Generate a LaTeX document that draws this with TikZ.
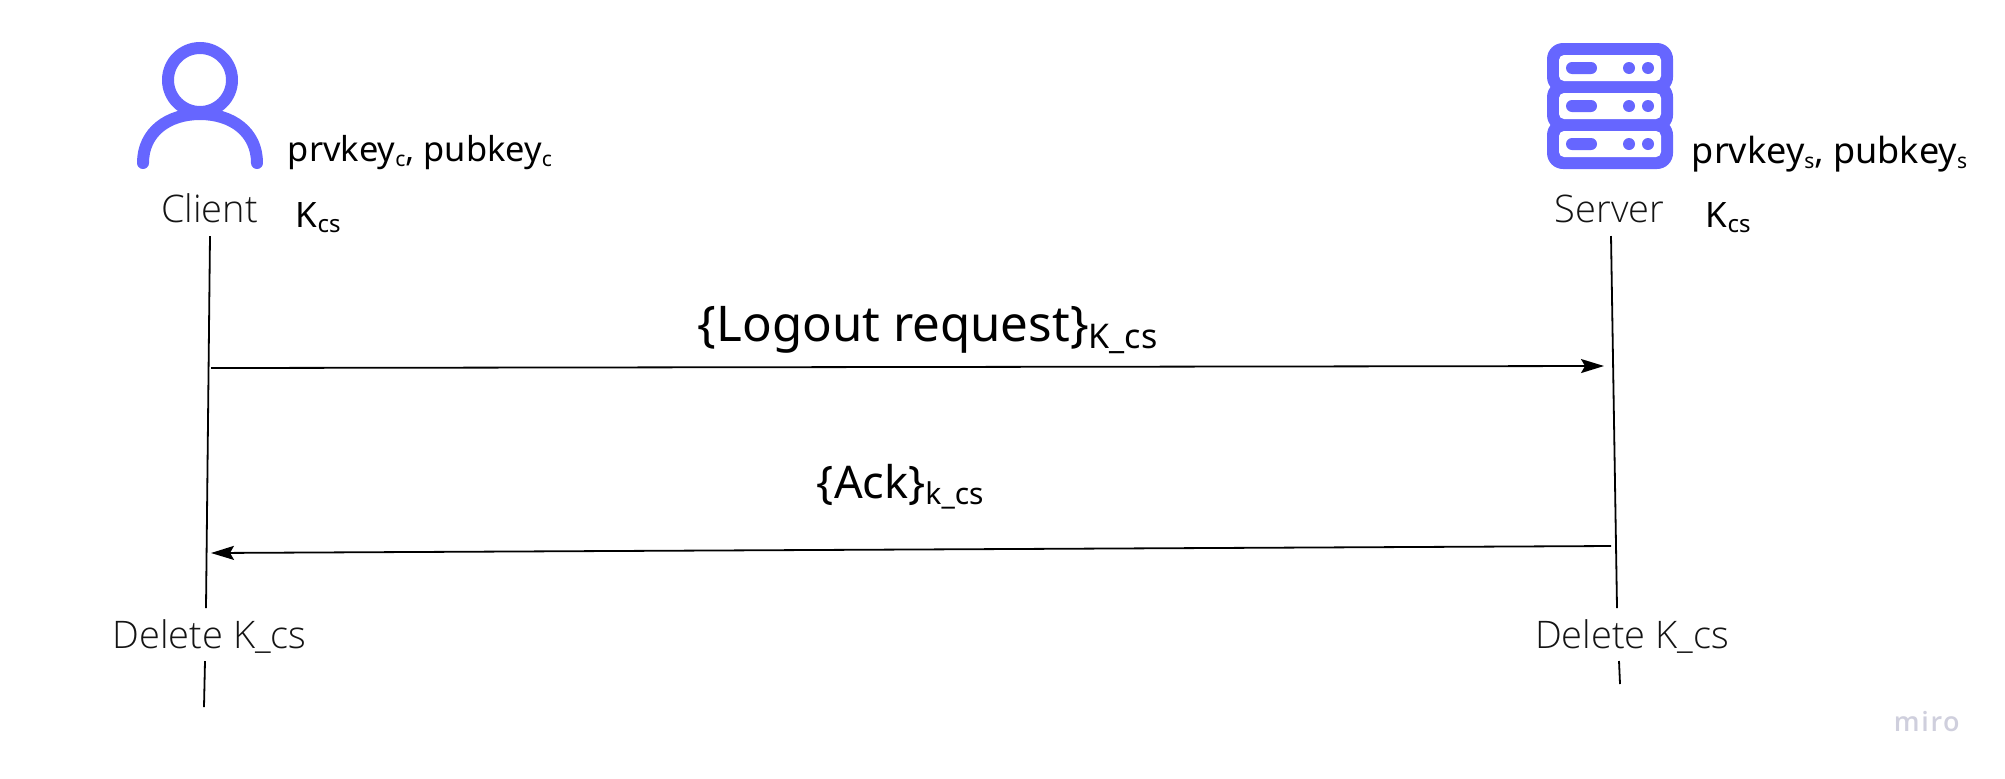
\documentclass[tikz,border=0pt]{standalone}
\usepackage{xcolor}
\usepackage{fontspec}
\usepackage{tikz}
\usetikzlibrary{arrows.meta}
\usetikzlibrary{positioning}

\setmainfont{Noto Sans}
\newfontfamily\labelfont{Open Sans Light}
\newfontfamily\brandfont[LetterSpace=6]{Open Sans Semibold}
\definecolor{iconblue}{HTML}{6666FF}
\definecolor{brandgrey}{HTML}{CFCFDD}

% size, lowering, text
\newcommand{\keysub}[3]{\raisebox{-#2pt}{\fontsize{#1}{#1}\selectfont #3}}

\begin{document}
\begin{tikzpicture}[x=0.5pt,y=-0.5pt,
                    line width=0.9pt,
                    text node/.style={inner sep=0pt,anchor=base west},
                    key node/.style={text node,font=\fontsize{17.2}{20}\selectfont},
                    kcs node/.style={text node,font=\fontsize{17.5}{22}\selectfont},
                    actor node/.style={inner sep=0pt,anchor=base,text=black!92,font=\labelfont\fontsize{19}{22}\selectfont},
                    msg/.style={-{Stealth[length=11.5pt,width=7pt,inset=2pt]}},
                    rack/.style={fill=iconblue,rounded corners=8pt},
                    slot/.style={fill=white,rounded corners=2.5pt}]

    \useasboundingbox (0,0) rectangle (2005,778);

    % client icon
    \draw[iconblue,line width=6pt] (200,80) circle (16pt);
    \draw[iconblue,line width=6pt,line cap=round] (143,163) .. controls (143,132) and (168,114) .. (200,114)
        .. controls (232,114) and (257,132) .. (257,163);

    % server icon
    \foreach \y in {43,81,119} {
        \fill[rack] (1547,\y) rectangle (1673,\y+50);
    }
    \foreach \y in {55,93,131} {
        \fill[slot] (1559,\y) rectangle (1661,\y+26);
        \fill[iconblue,rounded corners=3pt] (1566,\y+7) rectangle (1597,\y+19);
        \fill[iconblue] (1629,\y+13) circle (3pt);
        \fill[iconblue] (1648,\y+13) circle (3pt);
    }

    \node[actor node] (client) at (209.5,222) {Client};
    \node[actor node] (server) at (1609.5,222) {Server};
    \node[actor node] (clientdel) at (209.5,648) {Delete K\_cs};
    \node[actor node] (serverdel) at (1632,648) {Delete K\_cs};

    \node[key node] (clientkeys) at (287,161) {prvkey\keysub{10.5}{2.5}{c}, pubkey\keysub{10.5}{2.5}{c}};
    \node[key node,font=\fontsize{18}{20}\selectfont] (serverkeys) at (1691,163) {prvkey\keysub{10.5}{2.5}{s}, pubkey\keysub{10.5}{2.5}{s}};
    \node[kcs node] (clientkcs) at (295,227) {K\keysub{12}{2.5}{cs}};
    \node[kcs node] (serverkcs) at (1705,227) {K\keysub{12}{2.5}{cs}};

    \node[text node,font=\fontsize{24.6}{30}\selectfont] (logout) at (697,341) {\{Logout request\}\keysub{17}{3.5}{K\_cs}};
    \node[text node,font=\fontsize{22.5}{28}\selectfont] (ack) at (816,498) {\{Ack\}\keysub{15}{3}{k\_cs}};

    \node[text node,text=brandgrey,font=\brandfont\fontsize{13.5}{15}\selectfont] (brand) at (1893,731) {miro};

    % lifelines
    \coordinate (clienttop) at (210,236);
    \coordinate (clientmid) at (206,608);
    \coordinate (clientlow) at (205,661);
    \coordinate (clientend) at (204,707);
    \coordinate (servertop) at (1611,236);
    \coordinate (servermid) at (1617,608);
    \coordinate (serverlow) at (1619,661);
    \coordinate (serverend) at (1620,684);

    \coordinate (reqstart) at (211,368);
    \coordinate (reqstop) at (1604,366);
    \coordinate (ackstart) at (1611,546);
    \coordinate (ackstop) at (211,553);

    \path (clienttop) edge (clientmid)
          (clientlow) edge (clientend)
          (servertop) edge (servermid)
          (serverlow) edge (serverend)
          (reqstart) edge [msg] (reqstop)
          (ackstart) edge [msg] (ackstop);
\end{tikzpicture}
\end{document}
